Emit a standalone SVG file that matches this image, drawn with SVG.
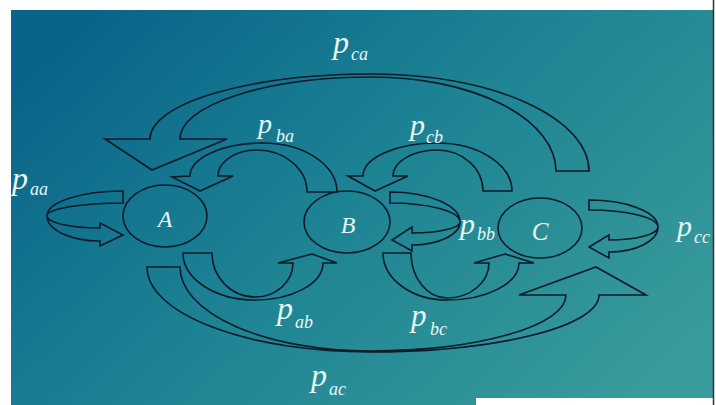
<svg xmlns="http://www.w3.org/2000/svg" width="716" height="405" viewBox="0 0 716 405">
<defs>
<linearGradient id="bg" x1="0" y1="0.2" x2="1" y2="0.8">
<stop offset="0" stop-color="#0a6489"/>
<stop offset="0.45" stop-color="#1c8293"/>
<stop offset="1" stop-color="#399b9b"/>
</linearGradient>
<style>
.arr{fill:none;stroke:#0b1b2a;stroke-width:1.6;stroke-linejoin:miter}
.node{fill:none;stroke:#0b1b2a;stroke-width:1.6}
.lbl{font-family:"Liberation Serif","Times New Roman",serif;font-style:italic;fill:#e8f6f6}
.sub{font-size:18px}
</style>
</defs>
<rect x="0" y="0" width="716" height="405" fill="#ffffff"/>
<rect x="11" y="10" width="702" height="395" fill="url(#bg)"/>
<rect x="476" y="398" width="237" height="7" fill="#ffffff"/>
<line x1="713.5" y1="0" x2="713.5" y2="405" stroke="#333" stroke-width="1.5"/>

<g id="connectors">
<!-- p_aa loop on A -->
<path class="arr" d="M123,191 A76,25 0 0,0 47,216 A53,25 0 0,0 100,241 L100,246 L123,235 L100,223 L100,228 A53,12 0 0,1 47,216 A76,13 0 0,1 123,203 Z"/>
<!-- p_bb loop on B -->
<path class="arr" d="M390,192 A70,30 0 0,1 460,222 A48,23 0 0,1 412,245 L412,251 L392,240 L412,227 L412,233 A48,11 0 0,0 460,222 A70,19 0 0,0 390,203 Z"/>
<!-- p_cc loop on C -->
<path class="arr" d="M589,200 A69,27 0 0,1 658,227 A49,25 0 0,1 609,252 L609,258 L589,247 L609,235 L609,240 A49,13 0 0,0 658,227 A69,17 0 0,0 589,210 Z"/>
<!-- p_ba B to A -->
<path class="arr" d="M337,192 A74,49 0 0,0 263,143 A73,33 0 0,0 190,176 L172,177 L200,191 L233,176 L218,176 A39,26 0 0,1 257,150 A50,42 0 0,1 307,192 Z"/>
<!-- p_cb C to B -->
<path class="arr" d="M512,191 A75,48 0 0,0 437,143 A74,33 0 0,0 363,176 L348,176 L375,191 L408,176 L393,176 A44,26 0 0,1 437,150 A46,41 0 0,1 483,191 Z"/>
<!-- p_ab A to B -->
<path class="arr" d="M183,253 L212,253 A43,44 0 0,0 255,297 A38,34 0 0,0 293,263 L278,263 L312,254 L337,263 L323,263 A68,37 0 0,1 255,300 A72,47 0 0,1 183,253 Z"/>
<!-- p_bc B to C -->
<path class="arr" d="M383,253 L411,253 A36,45 0 0,0 447,298 A42,35 0 0,0 489,263 L474,263 L505,254 L534,263 L519,263 A72,37 0 0,1 447,300 A64,47 0 0,1 383,253 Z"/>
<!-- p_ca C to A -->
<path class="arr" d="M556,171 L589,171 A216,97 0 0,0 373,74 A223,65 0 0,0 150,139 L105,139 L152,170 L227,139 L180,139 A193,62 0 0,1 373,77 A183,94 0 0,1 556,171 Z"/>
<!-- p_ac A to C -->
<path class="arr" d="M147,267 L180,267 A190,84 0 0,0 370,351 A196,56 0 0,0 566,295 L519,295 L596,267 L646,295 L599,295 A229,57 0 0,1 370,352 A223,85 0 0,1 147,267 Z"/>

<text class="lbl" x="333" y="53" font-size="32">p<tspan class="sub" x="351" y="60">ca</tspan></text>
<text class="lbl" x="258" y="133" font-size="28">p<tspan class="sub" x="276" y="142">ba</tspan></text>
<text class="lbl" x="410" y="135" font-size="30">p<tspan class="sub" x="426" y="143">cb</tspan></text>
<text class="lbl" x="12" y="189" font-size="32">p<tspan class="sub" x="30" y="195">aa</tspan></text>
<text class="lbl" x="460" y="234" font-size="30">p<tspan class="sub" x="477" y="240">bb</tspan></text>
<text class="lbl" x="677" y="236" font-size="30">p<tspan class="sub" x="694" y="243">cc</tspan></text>
<text class="lbl" x="277" y="319" font-size="32">p<tspan class="sub" x="295" y="328">ab</tspan></text>
<text class="lbl" x="411" y="326" font-size="31">p<tspan class="sub" x="430" y="335">bc</tspan></text>
<text class="lbl" x="311" y="386" font-size="32">p<tspan class="sub" x="329" y="395">ac</tspan></text>
</g>

<g id="A">
<ellipse class="node" cx="165" cy="216" rx="42" ry="31"/>
<text class="lbl" x="165" y="227" font-size="24" text-anchor="middle">A</text>
</g>
<g id="B">
<ellipse class="node" cx="347" cy="222" rx="43" ry="31"/>
<text class="lbl" x="348" y="233" font-size="24" text-anchor="middle">B</text>
</g>
<g id="C">
<ellipse class="node" cx="540" cy="228" rx="42" ry="30"/>
<text class="lbl" x="540" y="240" font-size="25" text-anchor="middle">C</text>
</g>
</svg>
